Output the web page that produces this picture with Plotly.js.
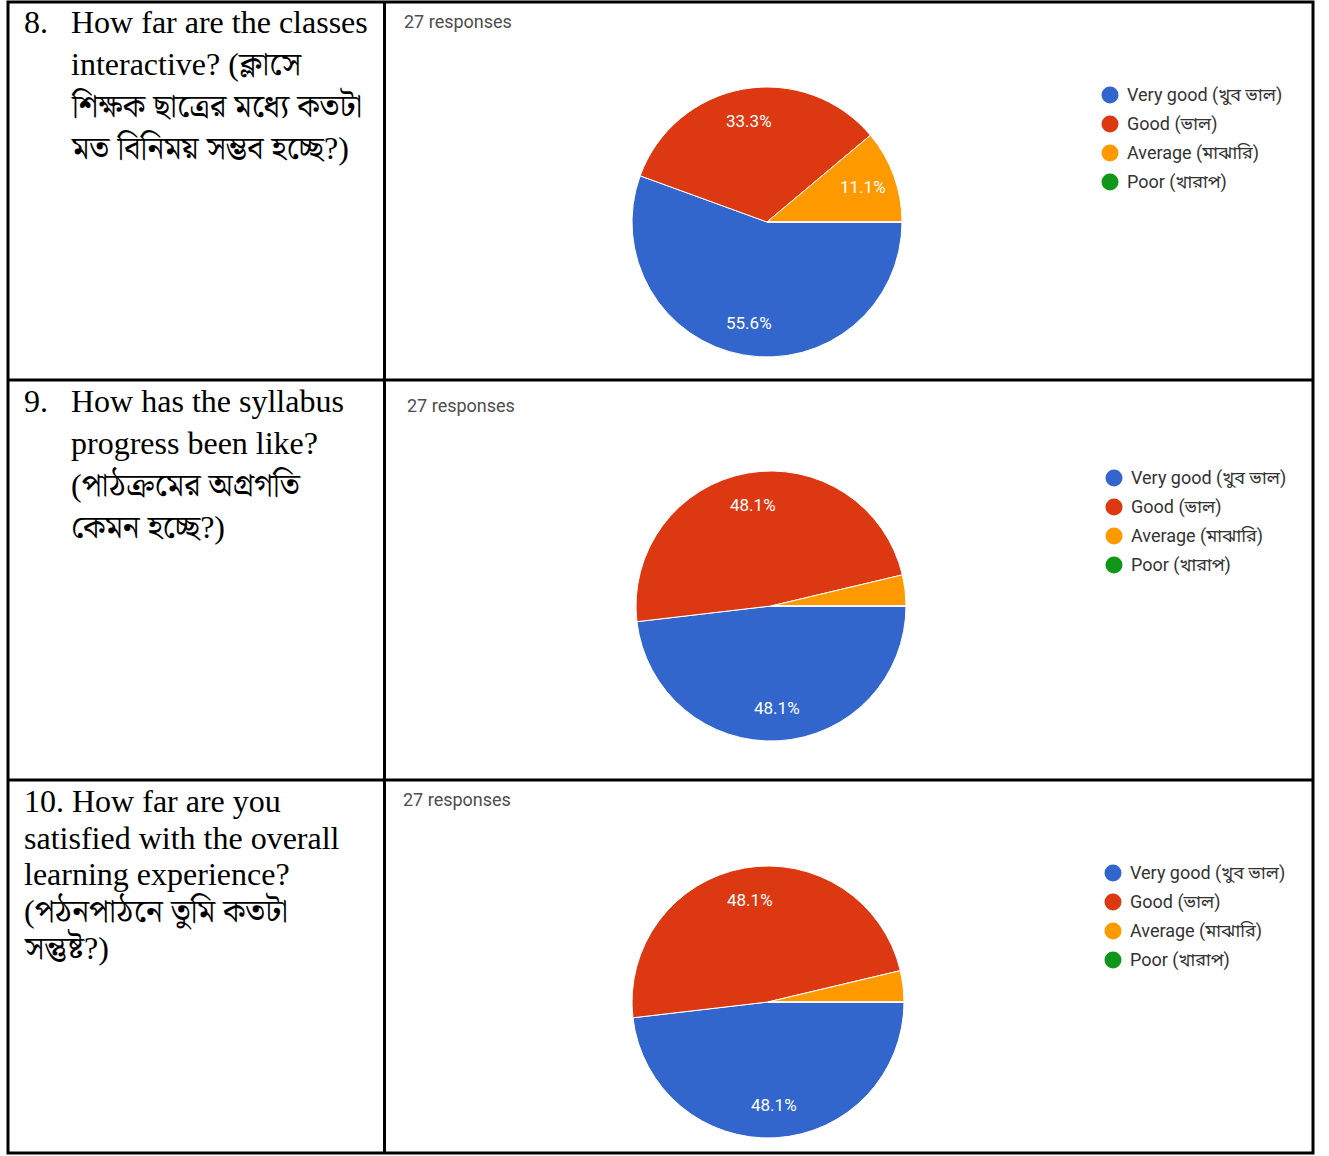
<!DOCTYPE html>
<html>
<head>
<meta charset="utf-8">
<script src="https://cdn.plot.ly/plotly-3.0.1.min.js"></script>
<style>
html,body{margin:0;padding:0;background:#fff;}
#chart{width:1329px;height:1156px;}
</style>
</head>
<body>
<div id="chart"></div>
<script>
// ---- data ----
const categories = ['Very good (খুব ভাল)', 'Good (ভাল)', 'Average (মাঝারি)', 'Poor (খারাপ)'];
const colors = ['#3366CC', '#DC3912', '#FF9900', '#109618'];
const q8Counts = [15, 9, 3, 0];
const q9Counts = [13, 13, 1, 0];
const q10Counts = [13, 13, 1, 0];
const responseCounts = [27, 27, 27];
const q8Number = '8.';
const q8Lines = ['How far are the classes', 'interactive? (ক্লাসে', 'শিক্ষক ছাত্রের মধ্যে কতটা', 'মত বিনিময় সম্ভব হচ্ছে?)'];
const q9Number = '9.';
const q9Lines = ['How has the syllabus', 'progress been like?', '(পাঠক্রমের অগ্রগতি', 'কেমন হচ্ছে?)'];
const q10Lines = ['10. How far are you', 'satisfied with the overall', 'learning experience?', '(পঠনপাঠনে তুমি কতটা', 'সন্তুষ্ট?)'];

// ---- layout helpers ----
const W = 1329, H = 1156;
const px = x => x / W;
const py = y => 1 - y / H;

const serif = 'Liberation Serif, Times New Roman, Noto Serif Bengali, Noto Sans Bengali, serif';
const sans = 'Roboto, Noto Sans Bengali, Noto Sans, Arial, sans-serif';

const blocks = [
  {counts: q8Counts, cx: 767, cy: 222, r: 135, resp: [402, 22], leg: [1110, 1125, 95],
   number: q8Number, lines: q8Lines, numX: 22, textX: 69, y0: 22, dy: 42},
  {counts: q9Counts, cx: 771, cy: 606, r: 135, resp: [405, 405], leg: [1114, 1129, 478],
   number: q9Number, lines: q9Lines, numX: 22, textX: 69, y0: 401, dy: 42},
  {counts: q10Counts, cx: 768, cy: 1002, r: 136, resp: [401, 800], leg: [1113, 1128, 873],
   number: null, lines: q10Lines, numX: 22, textX: 22, y0: 801, dy: 36.5}
];

const traces = [];
const annotations = [];
const shapes = [];

blocks.forEach((b, i) => {
  traces.push({
    type: 'pie',
    labels: categories,
    values: b.counts,
    marker: {colors: colors, line: {color: '#ffffff', width: 1}},
    sort: false,
    direction: 'clockwise',
    rotation: 90,
    textinfo: 'none',
    hoverinfo: 'label+percent',
    showlegend: false,
    domain: {x: [px(b.cx - b.r), px(b.cx + b.r)], y: [py(b.cy + b.r), py(b.cy - b.r)]}
  });
  // slice percentage labels, placed from the slice angles (Google-Charts style)
  const total = b.counts.reduce((a, v) => a + v, 0);
  let cum = 0;
  b.counts.forEach((v, k) => {
    const frac = v / total;
    const mid = (cum + frac / 2) * 2 * Math.PI; // clockwise from 3 o'clock
    cum += frac;
    if (frac < 0.05) return;
    const kr = 0.76 * b.r;
    annotations.push({
      xref: 'paper', yref: 'paper',
      x: px(b.cx + kr * Math.cos(mid)), y: py(b.cy + kr * Math.sin(mid)),
      xanchor: 'center', yanchor: 'middle', showarrow: false,
      text: (frac * 100).toFixed(1) + '%',
      font: {family: sans, size: 17, color: '#ffffff'}
    });
  });
  // responses text
  annotations.push({
    xref: 'paper', yref: 'paper', x: px(b.resp[0]), y: py(b.resp[1]),
    xanchor: 'left', yanchor: 'middle', showarrow: false,
    text: responseCounts[i] + ' responses',
    font: {family: sans, size: 18, color: '#4d4d4d'}
  });
  // legend
  categories.forEach((c, k) => {
    const yy = b.leg[2] + k * 29;
    shapes.push({type: 'circle', xref: 'paper', yref: 'paper',
      x0: px(b.leg[0] - 8.5), x1: px(b.leg[0] + 8.5), y0: py(yy + 8.5), y1: py(yy - 8.5),
      fillcolor: colors[k], line: {width: 0}});
    annotations.push({
      xref: 'paper', yref: 'paper', x: px(b.leg[1]), y: py(yy),
      xanchor: 'left', yanchor: 'middle', showarrow: false,
      text: c, font: {family: sans, size: 18, color: '#333333'}
    });
  });
  // question text
  if (b.number) {
    annotations.push({
      xref: 'paper', yref: 'paper', x: px(b.numX), y: py(b.y0),
      xanchor: 'left', yanchor: 'middle', showarrow: false,
      text: b.number, font: {family: serif, size: 32, color: '#000000'}
    });
  }
  b.lines.forEach((ln, k) => {
    annotations.push({
      xref: 'paper', yref: 'paper', x: px(b.textX), y: py(b.y0 + k * b.dy),
      xanchor: 'left', yanchor: 'middle', showarrow: false,
      text: ln, font: {family: serif, size: 32, color: '#000000'}
    });
  });
});

// table lines
const lineStyle = {color: '#000000', width: 3};
shapes.push({type: 'rect', xref: 'paper', yref: 'paper', x0: px(8), x1: px(1313), y0: py(1153), y1: py(2), line: lineStyle});
shapes.push({type: 'line', xref: 'paper', yref: 'paper', x0: px(384.5), x1: px(384.5), y0: py(1153), y1: py(2), line: lineStyle});
shapes.push({type: 'line', xref: 'paper', yref: 'paper', x0: px(8), x1: px(1313), y0: py(380), y1: py(380), line: lineStyle});
shapes.push({type: 'line', xref: 'paper', yref: 'paper', x0: px(8), x1: px(1313), y0: py(780), y1: py(780), line: lineStyle});

const layout = {
  width: W, height: H,
  margin: {l: 0, r: 0, t: 0, b: 0},
  paper_bgcolor: '#ffffff',
  showlegend: false,
  annotations: annotations,
  shapes: shapes
};

Plotly.newPlot('chart', traces, layout, {displayModeBar: false, staticPlot: true});
</script>
</body>
</html>
